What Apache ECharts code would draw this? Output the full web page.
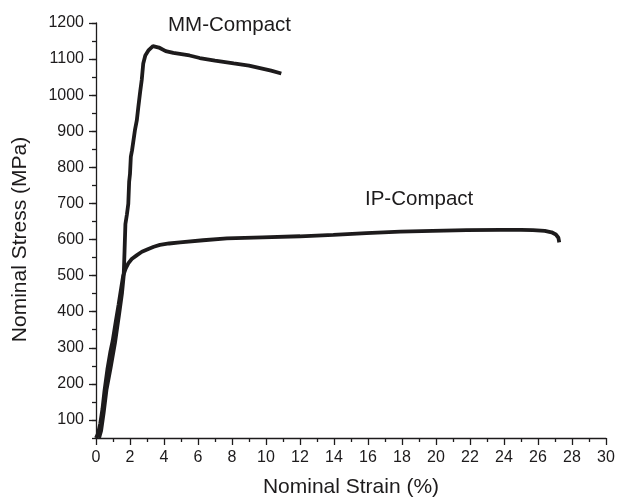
<!DOCTYPE html>
<html>
<head>
<meta charset="utf-8">
<script src="https://cdn.jsdelivr.net/npm/echarts@6/dist/echarts.min.js"></script>
<style>
  html, body { margin: 0; padding: 0; background: #fff; }
  #main { width: 618px; height: 498px; }
</style>
</head>
<body>
<div id="main"></div>
<script>
// MM-Compact curve (strain %, stress MPa)
const mmStrain = [0.18, 0.3, 0.45, 0.62, 0.86, 1.12, 1.35, 1.53, 1.63, 1.68, 1.73, 1.82, 1.9, 1.95, 2.0, 2.05, 2.12, 2.29, 2.4, 2.49, 2.6, 2.69, 2.78, 2.9, 3.1, 3.35, 3.7, 4.1, 4.55, 5.5, 6.1, 7.0, 8.1, 9.0, 9.65, 10.3, 10.9];
const mmStress = [50, 70, 120, 185, 245, 315, 390, 452, 500, 569, 643, 670, 699, 760, 782, 830, 847, 903, 930, 967, 1010, 1042, 1088, 1110, 1125, 1136, 1132, 1122, 1117, 1110, 1103, 1096, 1088, 1082, 1075, 1068, 1060];

// IP-Compact curve
const ipStrain = [0.0, 0.12, 0.25, 0.38, 0.5, 0.67, 0.85, 0.98, 1.17, 1.33, 1.48, 1.6, 1.75, 1.9, 2.1, 2.39, 2.7, 3.08, 3.4, 3.76, 4.3, 4.94, 6.3, 7.7, 9.8, 12.0, 13.96, 15.9, 17.9, 19.8, 21.8, 23.8, 25.0, 25.7, 26.4, 26.8, 27.05, 27.2, 27.25];
const ipStress = [50, 62, 90, 130, 181, 240, 290, 319, 375, 420, 465, 500, 520, 534, 546, 556, 566, 574, 580, 585, 589, 592, 598, 603, 606, 609, 613, 618, 622, 624, 626, 627, 627, 626, 624, 620, 614, 605, 592];

// tick labels
const yMajorTicks = [100, 200, 300, 400, 500, 600, 700, 800, 900, 1000, 1100, 1200];

const ink = "#1d1b1c";
const fontFamily = "Arial, 'Liberation Sans', Helvetica, sans-serif";

function pairs(xs, ys) {
  return xs.map((x, i) => [x, ys[i]]);
}

const chart = echarts.init(document.getElementById("main"));

const option = {
  animation: false,
  backgroundColor: "#fff",
  textStyle: { fontFamily: fontFamily, color: ink },
  grid: { left: 96, right: 12, top: 23, bottom: 60, outerBoundsMode: "none", containLabel: false },
  xAxis: {
    type: "value",
    min: 0,
    max: 30,
    interval: 2,
    name: "Nominal Strain (%)",
    nameLocation: "middle",
    nameGap: 39,
    nameTextStyle: { fontSize: 21, color: ink, fontFamily: fontFamily },
    axisLine: { show: true, lineStyle: { color: ink, width: 1.3 } },
    axisTick: { show: true, length: 7, lineStyle: { color: ink, width: 1.3 } },
    minorTick: { show: true, splitNumber: 2, length: 4, lineStyle: { color: ink, width: 1.3 } },
    axisLabel: { fontSize: 16, color: ink, margin: 12, fontFamily: fontFamily },
    splitLine: { show: false },
  },
  yAxis: [
    {
      type: "value",
      position: "left",
      min: 50,
      max: 1200,
      interval: 50,
      name: "Nominal Stress (MPa)",
      nameLocation: "middle",
      nameGap: 65,
      nameTextStyle: { fontSize: 21, color: ink, fontFamily: fontFamily, padding: [0, 18, 0, 0] },
      axisLine: { show: true, lineStyle: { color: ink, width: 1.3 } },
      axisTick: { show: true, length: 7, customValues: yMajorTicks, lineStyle: { color: ink, width: 1.3 } },
      axisLabel: {
        fontSize: 16,
        color: ink,
        margin: 12,
        customValues: yMajorTicks,
        fontFamily: fontFamily,
        formatter: (v) => String(v),
      },
      splitLine: { show: false },
    },
    {
      // minor ticks every 50
      type: "value",
      position: "left",
      min: 50,
      max: 1200,
      interval: 50,
      axisLine: { show: false },
      axisTick: { show: true, length: 4, lineStyle: { color: ink, width: 1.3 } },
      axisLabel: { show: false },
      splitLine: { show: false },
    },
  ],
  graphic: [
    {
      type: "text",
      left: 168,
      top: 15,
      style: { text: "MM-Compact", fill: ink, font: "20.5px " + fontFamily },
    },
    {
      type: "text",
      left: 365,
      top: 189,
      style: { text: "IP-Compact", fill: ink, font: "20.5px " + fontFamily },
    },
  ],
  series: [
    {
      name: "IP-Compact",
      type: "line",
      data: pairs(ipStrain, ipStress),
      showSymbol: false,
      lineStyle: { color: ink, width: 3.8 },
      z: 3,
    },
    {
      name: "MM-Compact",
      type: "line",
      data: pairs(mmStrain, mmStress),
      showSymbol: false,
      lineStyle: { color: ink, width: 3.8 },
      z: 3,
    },
  ],
};

chart.setOption(option);
</script>
</body>
</html>
